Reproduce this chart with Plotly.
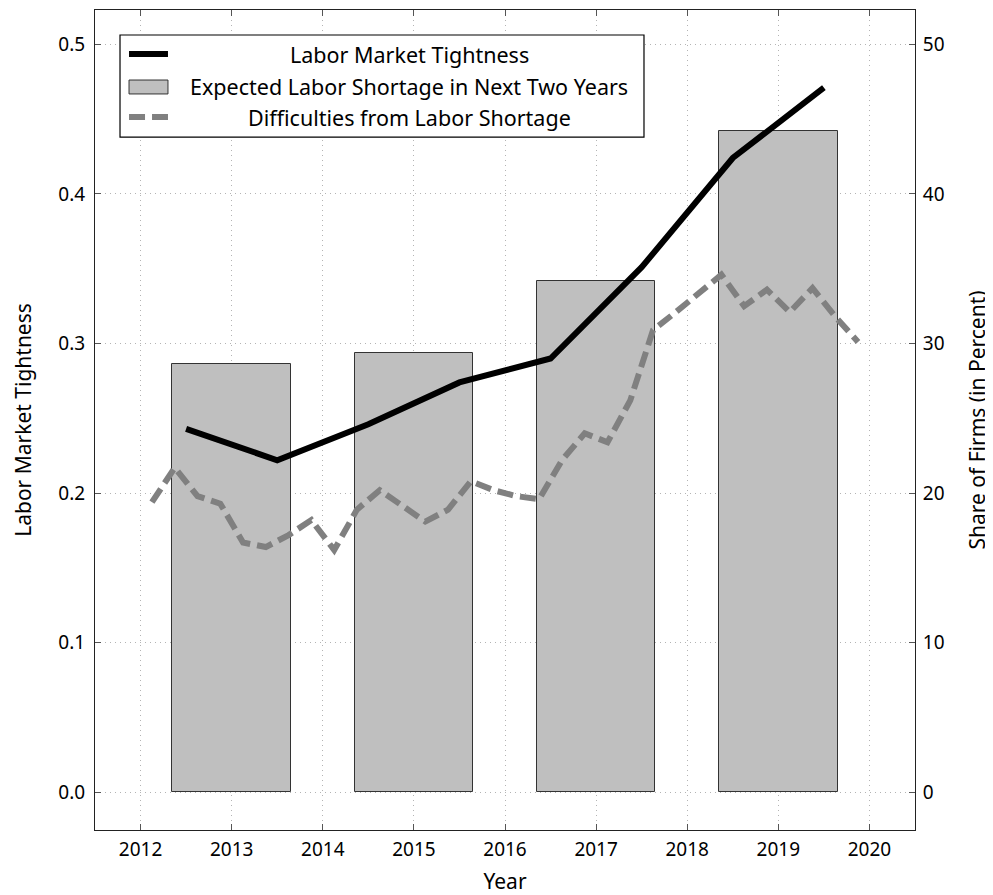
import plotly.graph_objects as go

# annual labor market tightness (left axis)
lmt_x = [2012.5, 2013.5, 2014.5, 2015.5, 2016.5, 2017.5, 2018.5, 2019.5]
lmt_y = [0.243, 0.222, 0.246, 0.274, 0.290, 0.351, 0.424, 0.471]

# expected labor shortage in next two years, biennial survey (right axis, %)
exp_x = [2013, 2015, 2017, 2019]
exp_y = [28.6, 29.4, 34.2, 44.2]

# difficulties from labor shortage, quarterly (right axis, %)
diff_x = [2012.125, 2012.375, 2012.625, 2012.875, 2013.125, 2013.375, 2013.625, 2013.875,
          2014.125, 2014.375, 2014.625, 2014.875, 2015.125, 2015.375, 2015.625, 2015.875,
          2016.125, 2016.375, 2016.625, 2016.875, 2017.125, 2017.375, 2017.625, 2017.875,
          2018.125, 2018.375, 2018.625, 2018.875, 2019.125, 2019.375, 2019.625, 2019.875]
diff_y = [19.4, 21.7, 19.8, 19.3, 16.7, 16.4, 17.2, 18.2,
          16.2, 18.9, 20.2, 19.1, 18.1, 18.9, 20.8, 20.2,
          19.8, 19.6, 22.2, 24.0, 23.4, 26.2, 30.9, 32.1,
          33.3, 34.6, 32.5, 33.6, 32.1, 33.7, 31.8, 30.1]

years = list(range(2012, 2021))
font = "Noto Sans"
grid = "#b4b4b4"
title_size = 21
tick_size = 19

fig = go.Figure()

# share-of-firms traces live on the right axis ("y"), tightness on "y2" so it draws on top
fig.add_trace(go.Bar(
    x=exp_x, y=exp_y, width=1.3,
    marker=dict(color="#bfbfbf", line=dict(color="#333333", width=1)),
    name="Expected Labor Shortage in Next Two Years", yaxis="y"
))
fig.add_trace(go.Scatter(
    x=diff_x, y=diff_y, mode="lines",
    line=dict(color="#808080", width=6, dash="16px,7px"),
    name="Difficulties from Labor Shortage", yaxis="y"
))
fig.add_trace(go.Scatter(
    x=lmt_x, y=lmt_y, mode="lines",
    line=dict(color="black", width=6),
    name="Labor Market Tightness", yaxis="y2"
))

axis_common = dict(
    showline=True, linecolor="#222222", linewidth=1,
    ticks="inside", ticklen=6, tickcolor="#555555",
    tickfont=dict(family=font, size=tick_size, color="black"),
    zeroline=False, automargin=False,
)

# page body adds an 8px offset; figure is shrunk by that much so nothing overflows,
# keeping the plot box at 95..915 / 10..830 on screen
fig.update_layout(
    width=985, height=887,
    margin=dict(l=87, r=78, t=2, b=65),
    plot_bgcolor="white", paper_bgcolor="white",
    showlegend=False,
    bargap=0,
    font=dict(family=font, color="black"),
    xaxis=dict(
        range=[2011.5, 2020.5], tickvals=years, mirror="ticks",
        showgrid=True, gridcolor=grid, griddash="1px,4px", gridwidth=1,
        title=dict(text="Year", font=dict(family=font, size=title_size), standoff=14),
        ticklabelstandoff=2,
        **axis_common
    ),
    yaxis=dict(
        side="right", range=[-2.51, 52.29], tickvals=[0, 10, 20, 30, 40, 50],
        showgrid=True, gridcolor=grid, griddash="1px,4px", gridwidth=1,
        title=dict(text="Share of Firms (in Percent)", font=dict(family=font, size=title_size), standoff=26),
        ticklabelstandoff=3,
        **axis_common
    ),
    yaxis2=dict(
        side="left", overlaying="y", range=[-0.0251, 0.5229],
        tickvals=[0, 0.1, 0.2, 0.3, 0.4, 0.5], tickformat=".1f",
        showgrid=False, mirror="ticks",
        title=dict(text="Labor Market Tightness", font=dict(family=font, size=title_size), standoff=21),
        ticklabelstandoff=5,
        **axis_common
    ),
)

# legend drawn by hand so the labels can be centred as in the original
box = dict(x0=0.0305, x1=0.6695, y0=0.845, y1=0.9695)
rows = [0.9463, 0.9061, 0.8695]
labels = ["Labor Market Tightness",
          "Expected Labor Shortage in Next Two Years",
          "Difficulties from Labor Shortage"]
sx0, sx1 = 0.0415, 0.089

fig.add_shape(type="rect", xref="paper", yref="paper", **box,
              line=dict(color="black", width=1.2), fillcolor="white", layer="above")
fig.add_shape(type="line", xref="paper", yref="paper", x0=sx0, x1=sx1, y0=rows[0], y1=rows[0],
              line=dict(color="black", width=6), layer="above")
fig.add_shape(type="rect", xref="paper", yref="paper", x0=sx0, x1=sx1,
              y0=rows[1] - 0.0085, y1=rows[1] + 0.0085,
              line=dict(color="#333333", width=1), fillcolor="#bfbfbf", layer="above")
fig.add_shape(type="line", xref="paper", yref="paper", x0=sx0, x1=sx1, y0=rows[2], y1=rows[2],
              line=dict(color="#808080", width=6, dash="16px,7px"), layer="above")
for yy, txt in zip(rows, labels):
    fig.add_annotation(x=0.383, y=yy, xref="paper", yref="paper", text=txt,
                       showarrow=False, xanchor="center", yanchor="middle",
                       font=dict(family=font, size=21.5, color="black"))

fig.write_html("out.html")
